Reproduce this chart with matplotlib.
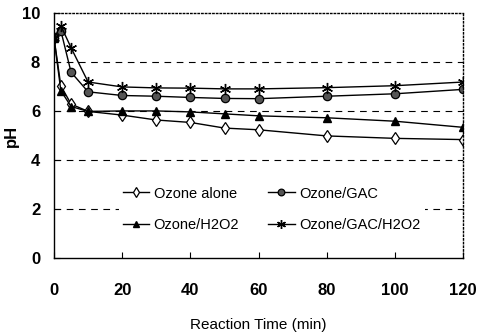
import matplotlib
matplotlib.use("Agg")
import matplotlib.pyplot as plt

# data
time_min = [0, 2, 5, 10, 20, 30, 40, 50, 60, 80, 100, 120]
ph_ozone = [9.0, 7.05, 6.3, 6.0, 5.85, 5.65, 5.55, 5.32, 5.25, 5.0, 4.9, 4.85]
ph_ozone_gac = [9.0, 9.3, 7.6, 6.8, 6.65, 6.62, 6.57, 6.53, 6.52, 6.62, 6.72, 6.9]
ph_ozone_h2o2 = [9.0, 6.85, 6.2, 6.0, 6.02, 6.02, 5.98, 5.9, 5.82, 5.74, 5.6, 5.35]
ph_ozone_gac_h2o2 = [9.0, 9.5, 8.6, 7.2, 7.0, 6.96, 6.95, 6.92, 6.92, 6.97, 7.05, 7.2]

plt.rcParams["font.family"] = ["Liberation Sans", "DejaVu Sans"]

fig = plt.figure(figsize=(4.78, 3.36), dpi=100)
ax = fig.add_axes([0.113, 0.231, 0.856, 0.729])

l1, = ax.plot(time_min, ph_ozone, "-", color="black", lw=1.0, marker="d", ms=6,
              mfc="white", mec="black", mew=0.9, label="Ozone alone")
l2, = ax.plot(time_min, ph_ozone_gac, "-", color="black", lw=1.0, marker="o", ms=6,
              mfc="#555555", mec="black", mew=0.9, label="Ozone/GAC")
l3, = ax.plot(time_min, ph_ozone_h2o2, "-", color="black", lw=1.0, marker="^", ms=6,
              mfc="black", mec="black", label="Ozone/H2O2")
l4, = ax.plot(time_min, ph_ozone_gac_h2o2, "-", color="black", lw=1.0, marker=(6, 2, 0), ms=8,
              mec="black", mew=1.0, label="Ozone/GAC/H2O2")

ax.set_xlim(0, 120)
ax.set_ylim(0, 10)
ax.set_xticks(range(0, 121, 20))
ax.set_yticks(range(0, 11, 2))
for v in [2, 4, 6, 8]:
    ax.axhline(v, color="black", lw=0.8, ls=(0, (6, 5)), zorder=0)

ax.spines["top"].set_linestyle(":")
ax.spines["right"].set_linestyle(":")
for s in ax.spines.values():
    s.set_linewidth(1.0)
ax.tick_params(direction="in", length=4, width=0.8, pad=18, labelsize=12)
ax.tick_params(axis="y", pad=10)
for lab in ax.get_xticklabels() + ax.get_yticklabels():
    lab.set_fontweight("bold")

ax.set_ylabel("pH", fontsize=12, fontweight="bold", labelpad=2)
ax.set_xlabel("Reaction Time (min)", fontsize=11, labelpad=14)

# row-major order: alone | GAC on top, H2O2 | GAC/H2O2 below
leg = ax.legend([l1, l3, l2, l4], [l1.get_label(), l3.get_label(), l2.get_label(), l4.get_label()],
                loc="lower left", bbox_to_anchor=(0.14, 0.06), ncol=2, frameon=True,
                fontsize=10.5, handlelength=1.8, columnspacing=2.0, labelspacing=1.2,
                handletextpad=0.3, borderpad=0.3, markerscale=0.8)
leg.get_frame().set_edgecolor("none")
leg.get_frame().set_facecolor("white")
leg.get_frame().set_alpha(1.0)

fig.savefig("out.png", dpi=100)
